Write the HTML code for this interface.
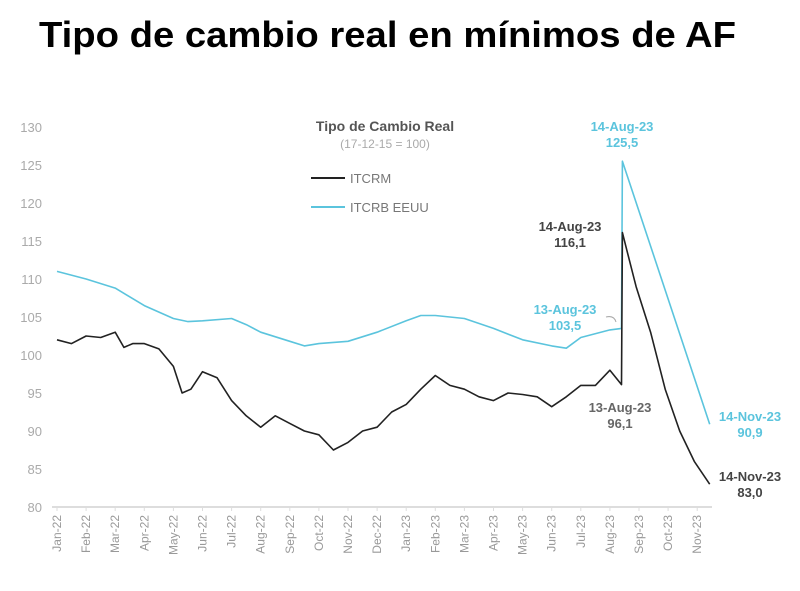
<!DOCTYPE html>
<html><head><meta charset="utf-8"><style>
body{margin:0;background:#fff;width:800px;height:586px;overflow:hidden}
</style></head><body>
<svg id="chart" width="800" height="586" xmlns="http://www.w3.org/2000/svg" font-family="Liberation Sans, sans-serif">
<text x="39" y="47" font-size="36" font-weight="bold" fill="#000" textLength="697" lengthAdjust="spacingAndGlyphs">Tipo de cambio real en mínimos de AF</text>
<text x="385" y="131" font-size="14" font-weight="bold" fill="#555" text-anchor="middle">Tipo de Cambio Real</text>
<text x="385" y="148" font-size="12" fill="#aaa" text-anchor="middle">(17-12-15 = 100)</text>
<g><line x1="311" y1="178" x2="345" y2="178" stroke="#222" stroke-width="2"/><text x="350" y="183" font-size="13" fill="#777">ITCRM</text></g>
<g><line x1="311" y1="207" x2="345" y2="207" stroke="#5bc4dd" stroke-width="2"/><text x="350" y="212" font-size="13" fill="#777">ITCRB EEUU</text></g>
<g id="axes"></g>
<g id="series"></g>
<g font-size="13" text-anchor="middle" font-weight="bold">
<text x="622" y="131" fill="#5bc4dd">14-Aug-23</text><text x="622" y="147" fill="#5bc4dd">125,5</text>
<text x="570" y="231" fill="#444">14-Aug-23</text><text x="570" y="247" fill="#444">116,1</text>
<text x="565" y="314" fill="#5bc4dd">13-Aug-23</text><text x="565" y="330" fill="#5bc4dd">103,5</text>
<text x="620" y="412" fill="#666">13-Aug-23</text><text x="620" y="428" fill="#666">96,1</text>
<text x="750" y="421" fill="#5bc4dd">14-Nov-23</text><text x="750" y="437" fill="#5bc4dd">90,9</text>
<text x="750" y="481" fill="#444">14-Nov-23</text><text x="750" y="497" fill="#444">83,0</text>
</g>
<path d="M606 317 Q614 315 616 322" fill="none" stroke="#aaa" stroke-width="1"/>
</svg>
<script>
const monthLabels=["Jan-22","Feb-22","Mar-22","Apr-22","May-22","Jun-22","Jul-22","Aug-22","Sep-22","Oct-22","Nov-22","Dec-22","Jan-23","Feb-23","Mar-23","Apr-23","May-23","Jun-23","Jul-23","Aug-23","Sep-23","Oct-23","Nov-23"];
const yTicks=[80,85,90,95,100,105,110,115,120,125,130];
const itcrmMonths=[0,0.5,1,1.5,2,2.3,2.6,3,3.5,4,4.3,4.6,5,5.5,6,6.5,7,7.5,8,8.5,9,9.5,10,10.5,11,11.5,12,12.5,13,13.5,14,14.5,15,15.5,16,16.5,17,17.5,18,18.5,19,19.4,19.43,19.6,19.9,20.4,20.9,21.4,21.9,22.43];
const itcrmValues=[102,101.5,102.5,102.3,103,101,101.5,101.5,100.8,98.5,95,95.5,97.8,97,94,92,90.5,92,91,90,89.5,87.5,88.5,90,90.5,92.5,93.5,95.5,97.3,96,95.5,94.5,94,95,94.8,94.5,93.2,94.5,96,96,98,96.1,116.1,113.5,109,103,95.5,90,86,83];
const itcrbMonths=[0,1,2,3,4,4.5,5,6,6.5,7,8,8.5,9,10,11,12,12.5,13,14,15,16,17,17.5,18,19,19.4,19.43,22.43];
const itcrbValues=[111,110,108.8,106.5,104.8,104.4,104.5,104.8,104,103,101.8,101.2,101.5,101.8,103,104.5,105.2,105.2,104.8,103.5,102,101.2,100.9,102.3,103.3,103.5,125.5,90.9];
const NS='http://www.w3.org/2000/svg';
const xS=m=>57+m*29.1;
const yS=v=>507-(v-80)*7.6;
const axes=document.getElementById('axes'),series=document.getElementById('series');
function mk(tag,attrs,parent){const e=document.createElementNS(NS,tag);for(const k in attrs)e.setAttribute(k,attrs[k]);parent.appendChild(e);return e;}
const ax=mk('line',{x1:52,x2:712,y1:yS(80),y2:yS(80),stroke:'#ddd','stroke-width':2},axes);


yTicks.forEach(v=>{const t=mk('text',{x:42,y:yS(v)+5,'font-size':13,fill:'#aaa','text-anchor':'end'},axes);t.textContent=v;

});
monthLabels.forEach((l,i)=>{const x=xS(i);const tk=mk('line',{x1:x,x2:x,y1:yS(80),y2:yS(80)+4,stroke:'#ddd'},axes);


const t=mk('text',{x:0,y:0,'font-size':12,fill:'#999','text-anchor':'end',transform:`translate(${x+4},515) rotate(-90)`},axes);t.textContent=l;

});
function line(ms,vs,color,name){const d=ms.map((m,i)=>(i?'L':'M')+xS(m).toFixed(1)+' '+yS(vs[i]).toFixed(1)).join(' ');
const p=mk('path',{d:d,fill:'none',stroke:color,'stroke-width':1.6,'stroke-linejoin':'round'},series);

}
line(itcrbMonths,itcrbValues,'#5bc4dd','itcrb-line');
line(itcrmMonths,itcrmValues,'#222','itcrm-line');
</script>
</body></html>
